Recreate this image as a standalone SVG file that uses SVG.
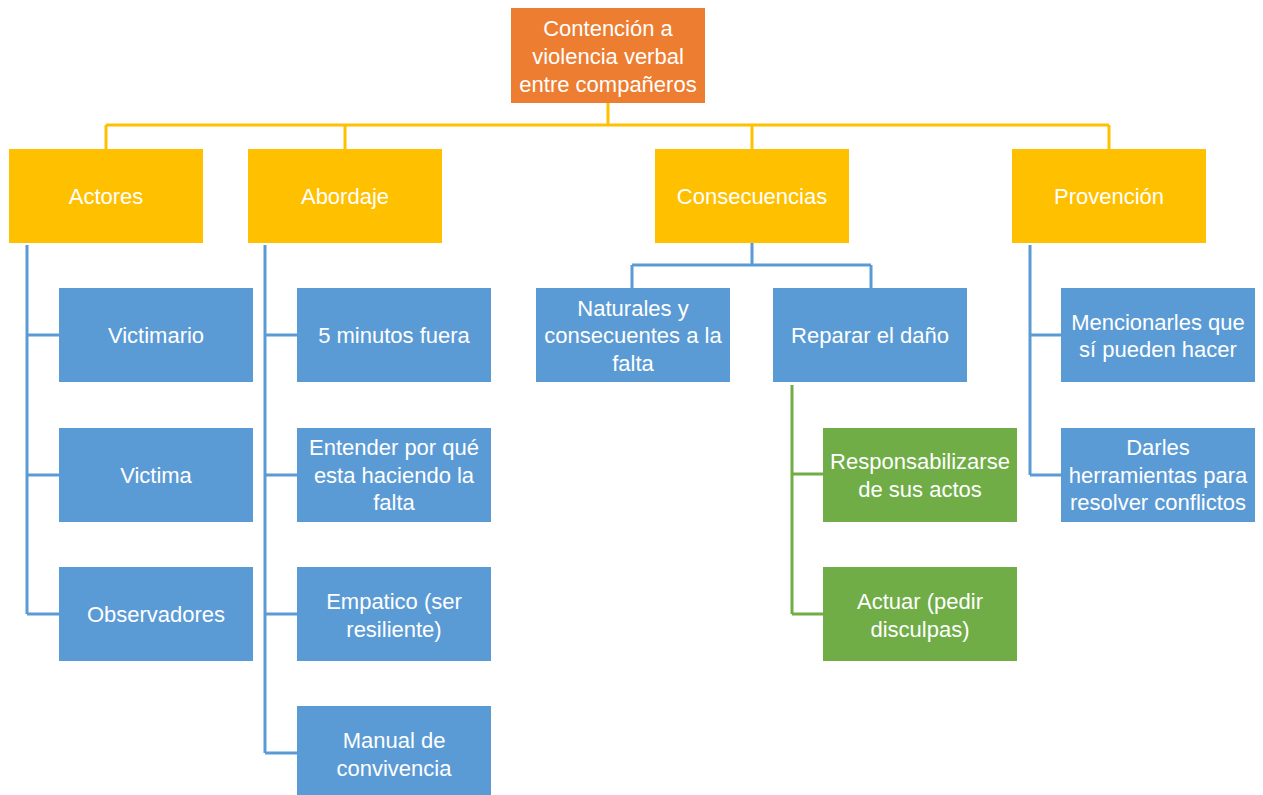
<svg xmlns="http://www.w3.org/2000/svg" width="1263" height="795" viewBox="0 0 1263 795">
<style>
text{font-family:"Liberation Sans",Arial,sans-serif;font-size:22px;fill:#fff;text-anchor:middle}
.o{fill:#ED7D31}.y{fill:#FFC000}.b{fill:#5B9BD5}.g{fill:#70AD47}
.ly{stroke:#FFC000;stroke-width:3;fill:none}
.lb{stroke:#5B9BD5;stroke-width:3;fill:none}
.lg{stroke:#70AD47;stroke-width:3;fill:none}
</style>
<rect width="1263" height="795" fill="#fff"/>
<g id="connectors">
<path class="ly" d="M608,103V125M106,125H1109M106,125V149M345,125V149M752,125V149M1109,125V149"/>
<path class="lb" d="M27,245V614M27,335H59M27,475H59M27,614H59"/>
<path class="lb" d="M265,245V753M265,335H297M265,475H297M265,614H297M265,753H297"/>
<path class="lb" d="M752,243V265M632,265H871M632,265V288M871,265V288"/>
<path class="lg" d="M792,385V614M792,474H823M792,614H823"/>
<path class="lb" d="M1030,245V475M1030,335H1061M1030,475H1061"/>
</g>
<g id="root"><rect class="o" x="511" y="8" width="194" height="95"/><text x="608" y="36">Contención a</text><text x="608" y="64">violencia verbal</text><text x="608" y="92">entre compañeros</text></g>
<g id="actores"><rect class="y" x="9" y="149" width="194" height="94"/><text x="106" y="204">Actores</text></g>
<g id="abordaje"><rect class="y" x="248" y="149" width="194" height="94"/><text x="345" y="204">Abordaje</text></g>
<g id="consecuencias"><rect class="y" x="655" y="149" width="194" height="94"/><text x="752" y="204">Consecuencias</text></g>
<g id="provencion"><rect class="y" x="1012" y="149" width="194" height="94"/><text x="1109" y="204">Provención</text></g>
<g id="victimario"><rect class="b" x="59" y="288" width="194" height="94"/><text x="156" y="343">Victimario</text></g>
<g id="victima"><rect class="b" x="59" y="428" width="194" height="94"/><text x="156" y="483">Victima</text></g>
<g id="observadores"><rect class="b" x="59" y="567" width="194" height="94"/><text x="156" y="622">Observadores</text></g>
<g id="minutos"><rect class="b" x="297" y="288" width="194" height="94"/><text x="394" y="343">5 minutos fuera</text></g>
<g id="entender"><rect class="b" x="297" y="428" width="194" height="94"/><text x="394" y="455">Entender por qué</text><text x="394" y="483">esta haciendo la</text><text x="394" y="510">falta</text></g>
<g id="empatico"><rect class="b" x="297" y="567" width="194" height="94"/><text x="394" y="609">Empatico (ser</text><text x="394" y="637">resiliente)</text></g>
<g id="manual"><rect class="b" x="297" y="706" width="194" height="94"/><text x="394" y="748">Manual de</text><text x="394" y="776">convivencia</text></g>
<g id="naturales"><rect class="b" x="536" y="288" width="194" height="94"/><text x="633" y="316">Naturales y</text><text x="633" y="343">consecuentes a la</text><text x="633" y="371">falta</text></g>
<g id="reparar"><rect class="b" x="773" y="288" width="194" height="94"/><text x="870" y="343">Reparar el daño</text></g>
<g id="responsabilizarse"><rect class="g" x="823" y="428" width="194" height="94"/><text x="920" y="469">Responsabilizarse</text><text x="920" y="497">de sus actos</text></g>
<g id="actuar"><rect class="g" x="823" y="567" width="194" height="94"/><text x="920" y="609">Actuar (pedir</text><text x="920" y="637">disculpas)</text></g>
<g id="mencionarles"><rect class="b" x="1061" y="288" width="194" height="94"/><text x="1158" y="330">Mencionarles que</text><text x="1158" y="357">sí pueden hacer</text></g>
<g id="darles"><rect class="b" x="1061" y="428" width="194" height="94"/><text x="1158" y="455">Darles</text><text x="1158" y="483">herramientas para</text><text x="1158" y="510">resolver conflictos</text></g>
</svg>
